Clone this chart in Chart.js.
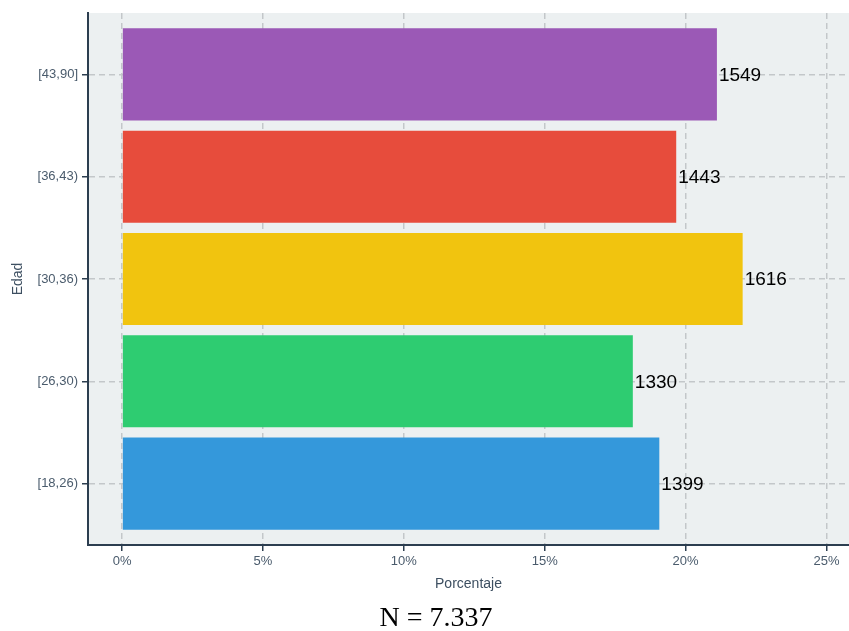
<!DOCTYPE html>
<html lang="es">
<head>
    <meta charset="UTF-8">
    <title>Edad - Porcentaje</title>
    <style>
        body {
            margin: 0;
            padding: 0;
            background-color: #ffffff;
        }
        .chart-container {
            width: 849px;
            height: 631px;
            position: relative;
        }
    </style>
    <script src="https://cdn.jsdelivr.net/npm/chart.js"></script>
</head>
<body>
    <div class="chart-container">
        <canvas id="barChart"></canvas>
    </div>
    <script>
        // categories from bottom to top
        const categories = ['[18,26)', '[26,30)', '[30,36)', '[36,43)', '[43,90]'];
        const counts = [1399, 1330, 1616, 1443, 1549];
        const barColors = ['#3498DB', '#2ECC71', '#F1C40F', '#E74C3C', '#9B59B6'];
        const xTicks = [0, 5, 10, 15, 20, 25];
        const total = 7337;
        const footerText = 'N = 7.337';

        const plotBackground = {
            id: 'plotBackground',
            beforeDraw(chart) {
                const { ctx, chartArea } = chart;
                ctx.save();
                ctx.fillStyle = '#ECF0F1';
                ctx.fillRect(chartArea.left, chartArea.top, chartArea.right - chartArea.left, chartArea.bottom - chartArea.top);
                ctx.restore();
            }
        };

        const countLabels = {
            id: 'countLabels',
            afterDatasetsDraw(chart) {
                const { ctx } = chart;
                const meta = chart.getDatasetMeta(0);
                ctx.save();
                ctx.font = '19px "Liberation Sans", Arial, sans-serif';
                ctx.fillStyle = '#000000';
                ctx.textAlign = 'left';
                ctx.textBaseline = 'middle';
                meta.data.forEach((bar, i) => {
                    ctx.fillText(String(counts[i]), bar.x + 2, bar.y + 1);
                });
                ctx.restore();
            }
        };

        // footer caption, slightly left of the plot centre as in the original
        const footer = {
            id: 'footer',
            afterDraw(chart) {
                const { ctx } = chart;
                ctx.save();
                ctx.font = '28px "Liberation Serif", "DejaVu Serif", serif';
                ctx.fillStyle = '#000000';
                ctx.textAlign = 'center';
                ctx.textBaseline = 'middle';
                ctx.fillText(footerText, 436, 619);
                ctx.restore();
            }
        };

        window.onload = function() {
            const ctx = document.getElementById('barChart').getContext('2d');

            new Chart(ctx, {
                type: 'bar',
                data: {
                    datasets: [{
                        data: counts.map((c, i) => ({ x: c / total * 100, y: i })),
                        backgroundColor: barColors,
                        borderWidth: 0,
                        barPercentage: 0.9,
                        categoryPercentage: 1.0
                    }]
                },
                options: {
                    indexAxis: 'y',
                    responsive: true,
                    maintainAspectRatio: false,
                    animation: false,
                    layout: {
                        padding: { top: 13, right: 0, bottom: 28, left: 0 }
                    },
                    plugins: {
                        legend: { display: false },
                        tooltip: { enabled: false },
                        title: { display: false }
                    },
                    scales: {
                        x: {
                            type: 'linear',
                            min: -1.21,
                            max: 25.8,
                            afterBuildTicks(scale) {
                                scale.ticks = xTicks.map(v => ({ value: v }));
                            },
                            afterFit(scale) {
                                scale.height = 58;
                            },
                            ticks: {
                                callback: v => v + '%',
                                color: '#4a5b6c',
                                font: { family: '"Liberation Sans", Arial, sans-serif', size: 13 },
                                padding: 3
                            },
                            grid: {
                                color: '#c3c7ca',
                                lineWidth: 1.5,
                                tickColor: '#2c3e50',
                                tickWidth: 1.5,
                                tickLength: 6,
                                tickBorderDash: []
                            },
                            border: {
                                display: true,
                                color: '#2c3e50',
                                width: 2,
                                dash: [6, 4]
                            },
                            title: {
                                display: true,
                                text: 'Porcentaje',
                                color: '#3d4f61',
                                font: { family: '"Liberation Sans", Arial, sans-serif', size: 14 },
                                padding: { top: 0, bottom: 10 }
                            }
                        },
                        y: {
                            type: 'linear',
                            offset: false,
                            min: -0.6,
                            max: 4.6,
                            afterBuildTicks(scale) {
                                scale.ticks = categories.map((c, i) => ({ value: i }));
                            },
                            afterFit(scale) {
                                scale.width = 88;
                            },
                            ticks: {
                                callback: v => categories[v],
                                color: '#4a5b6c',
                                font: { family: '"Liberation Sans", Arial, sans-serif', size: 13 },
                                padding: 4
                            },
                            grid: {
                                offset: false,
                                color: '#c3c7ca',
                                lineWidth: 1.5,
                                tickColor: '#2c3e50',
                                tickWidth: 1.5,
                                tickLength: 6,
                                tickBorderDash: []
                            },
                            border: {
                                display: true,
                                color: '#2c3e50',
                                width: 2,
                                dash: [6, 4]
                            },
                            title: {
                                display: true,
                                text: 'Edad',
                                color: '#3d4f61',
                                font: { family: '"Liberation Sans", Arial, sans-serif', size: 14 },
                                padding: { top: 10, bottom: 0 }
                            }
                        }
                    }
                },
                plugins: [plotBackground, countLabels, footer]
            });
        };
    </script>
</body>
</html>
